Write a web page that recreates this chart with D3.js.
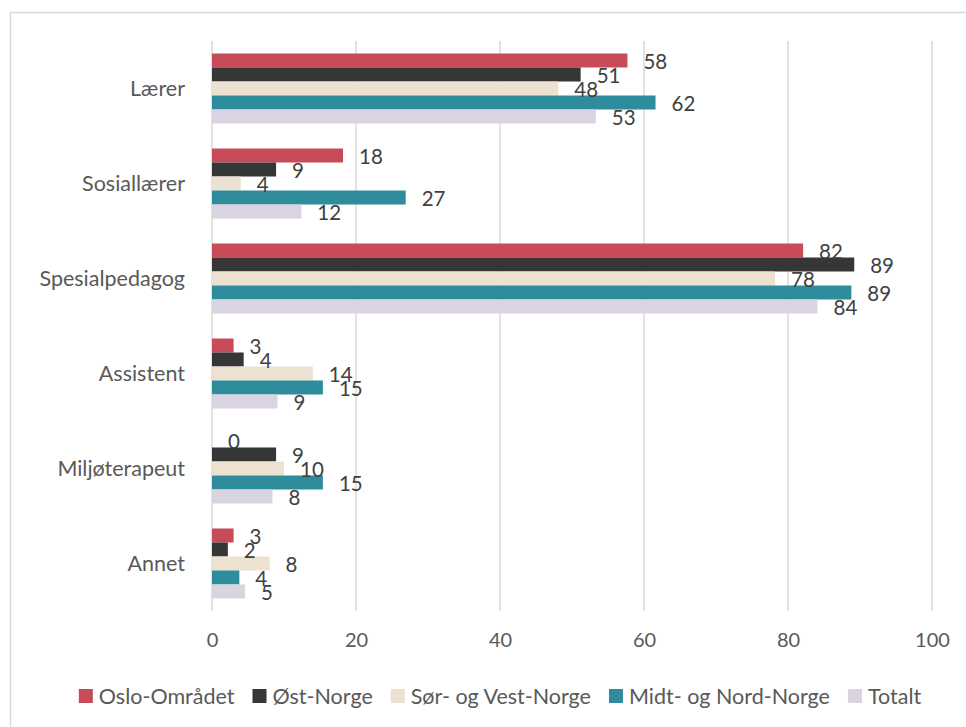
<html>
<head>
<meta charset="utf-8">
<script src="https://d3js.org/d3.v7.min.js"></script>
<style>
  body { margin: 0; background: #fff; }
  text { font-family: Lato, "Open Sans", sans-serif; }
</style>
</head>
<body>
<div id="chart"></div>
<script>
// categories and series
var categories = ["Lærer", "Sosiallærer", "Spesialpedagog", "Assistent", "Miljøterapeut", "Annet"];
var seriesNames = ["Oslo-Området", "Øst-Norge", "Sør- og Vest-Norge", "Midt- og Nord-Norge", "Totalt"];
var oslo     = [57.7, 18.2, 82.1, 3.0, 0, 3.0];
var ostNorge = [51.2, 8.9, 89.2, 4.4, 8.9, 2.2];
var sorVest  = [48.1, 4.0, 78.2, 14.0, 10.0, 8.0];
var midtNord = [61.6, 26.9, 88.8, 15.4, 15.4, 3.8];
var totalt   = [53.3, 12.4, 84.1, 9.1, 8.4, 4.6];
var xTicks = [0, 20, 40, 60, 80, 100];

var colors = ["#C84B5A", "#363636", "#EDE1D2", "#2E8C9C", "#DAD3E1"];
var allSeries = [oslo, ostNorge, sorVest, midtNord, totalt];

var width = 966, height = 727;
var plotLeft = 212, plotRight = 932, plotTop = 41, plotBottom = 611;

var svg = d3.select("#chart").append("svg")
    .attr("width", width)
    .attr("height", height);

// outer chart border (runs off the picture on right/bottom)
svg.append("rect")
    .attr("x", 10.5).attr("y", 12.5)
    .attr("width", 1000).attr("height", 800)
    .attr("fill", "none")
    .attr("stroke", "#d9d9d9")
    .attr("stroke-width", 1.5);

var x = d3.scaleLinear().domain([0, 100]).range([plotLeft, plotRight]);
var y = d3.scaleBand().domain(categories).range([plotTop, plotBottom])
    .paddingInner(0.263).paddingOuter(0.1316);
var ySub = d3.scaleBand().domain(d3.range(seriesNames.length)).range([0, y.bandwidth()]);

// gridlines
svg.append("g").selectAll("line")
    .data(xTicks)
    .enter().append("line")
    .attr("x1", function(d) { return x(d); })
    .attr("x2", function(d) { return x(d); })
    .attr("y1", plotTop).attr("y2", plotBottom)
    .attr("stroke", "#d9d9d9")
    .attr("stroke-width", 1.5);

// x axis labels
var xAxis = svg.append("g")
    .attr("transform", "translate(0," + 633 + ")")
    .call(d3.axisBottom(x).tickValues(xTicks).tickSize(0).tickPadding(0));
xAxis.select(".domain").remove();
xAxis.selectAll("text")
    .attr("dy", "0.71em")
    .style("font-size", "20px")
    .style("fill", "#595959");

// category labels
svg.append("g").selectAll("text")
    .data(categories)
    .enter().append("text")
    .attr("x", 185)
    .attr("y", function(d) { return y(d) + y.bandwidth() / 2; })
    .attr("dy", "0.35em")
    .style("text-anchor", "end")
    .style("font-size", "21.5px")
    .style("fill", "#595959")
    .text(function(d) { return d; });

// bars
var fmt = d3.format(".0f");
allSeries.forEach(function(vals, s) {
  svg.append("g").selectAll("rect")
    .data(vals)
    .enter().append("rect")
    .attr("x", x(0))
    .attr("y", function(d, i) { return y(categories[i]) + ySub(s); })
    .attr("width", function(d) { return x(d) - x(0); })
    .attr("height", ySub.bandwidth())
    .attr("fill", colors[s]);
});

// data labels (drawn after bars so they sit on top)
allSeries.forEach(function(vals, s) {
  svg.append("g").selectAll("text")
    .data(vals)
    .enter().append("text")
    .attr("x", function(d) { return x(d) + 16; })
    .attr("y", function(d, i) { return y(categories[i]) + ySub(s) + ySub.bandwidth() / 2 + 1.5; })
    .attr("dy", "0.35em")
    .style("font-size", "20.5px")
    .style("fill", "#404040")
    .text(function(d) { return fmt(d); });
});

// legend
var legend = svg.append("g");
var items = legend.selectAll("g")
    .data(seriesNames)
    .enter().append("g");
items.append("rect")
    .attr("width", 14).attr("height", 14)
    .attr("y", 689)
    .attr("fill", function(d, i) { return colors[i]; });
items.append("text")
    .attr("x", 20)
    .attr("y", 696)
    .attr("dy", "0.35em")
    .style("font-size", "21.5px")
    .style("fill", "#595959")
    .text(function(d) { return d; });

var pos = 0, offsets = [];
items.each(function(d, i) {
  offsets.push(pos);
  pos += 20 + this.querySelector("text").getComputedTextLength() + 18;
});
var totalW = pos - 18;
var startX = 500 - totalW / 2;
items.attr("transform", function(d, i) { return "translate(" + (startX + offsets[i]) + ",0)"; });
</script>
</body>
</html>
